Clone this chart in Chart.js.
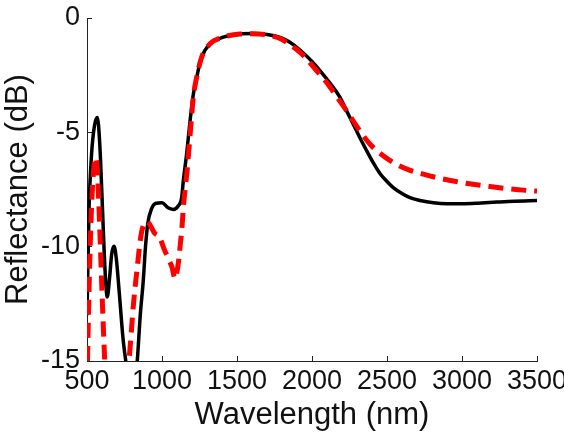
<!DOCTYPE html>
<html>
<head>
<meta charset="utf-8">
<script src="https://cdn.jsdelivr.net/npm/chart.js@4"></script>
<style>
  html, body { margin: 0; padding: 0; background: #fff; }
  #wrap { width: 564px; height: 434px; }
</style>
</head>
<body>
<div id="wrap"><canvas id="chart" width="564" height="434"></canvas></div>
<script>
// measured (black, solid) curve
var blackX = [500, 513, 530, 550, 569, 585, 600, 620, 635, 650, 665, 680, 695, 715, 740, 769, 800, 835, 855, 875, 890, 905, 930, 960, 1000, 1040, 1076, 1110, 1131, 1142, 1164, 1187, 1209, 1231, 1264, 1320, 1409, 1520, 1600, 1700, 1787, 1850, 1920, 2000, 2053, 2120, 2187, 2230, 2275, 2320, 2365, 2410, 2453, 2500, 2542, 2600, 2653, 2720, 2809, 2900, 3000, 3100, 3231, 3350, 3500];
var blackY = [-13, -8.5, -6, -4.7, -4.35, -5.5, -7.8, -11, -12.2, -11.4, -10.3, -9.98, -10.5, -12, -14, -15.5, -17, -15, -13, -11.5, -10, -9, -8.35, -8.1, -8.08, -8.3, -8.37, -8.2, -7.86, -7.13, -5.96, -4.5, -3.33, -2.6, -1.72, -1.13, -0.84, -0.7, -0.68, -0.72, -0.85, -1.05, -1.4, -1.9, -2.3, -2.85, -3.47, -4.05, -4.64, -5.25, -5.81, -6.35, -6.8, -7.15, -7.42, -7.68, -7.86, -7.98, -8.08, -8.12, -8.12, -8.1, -8.05, -8.01, -7.98];

// simulated (red, dashed) curve
var redX = [500, 515, 530, 545, 558, 570, 585, 600, 615, 624, 700, 780, 810, 835, 860, 880, 898, 915, 950, 985, 1011, 1040, 1067, 1087, 1100, 1111, 1122, 1133, 1144, 1156, 1167, 1180, 1190, 1209, 1231, 1264, 1320, 1409, 1520, 1600, 1700, 1787, 1850, 1920, 1964, 2030, 2098, 2160, 2231, 2310, 2387, 2470, 2564, 2650, 2742, 2831, 2942, 3050, 3164, 3300, 3431, 3500];
var redY = [-16, -11.5, -8.3, -6.6, -6.1, -6.8, -9.2, -12, -14.5, -15.8, -20, -15, -12.5, -10.9, -9.5, -9.0, -8.9, -9.0, -9.4, -9.6, -10.05, -10.5, -10.9, -11.4, -11.1, -10.6, -9.9, -9.17, -8.15, -7.4, -6.7, -5.7, -4.9, -3.45, -2.6, -1.72, -1.13, -0.84, -0.7, -0.69, -0.74, -0.9, -1.15, -1.5, -1.79, -2.3, -2.82, -3.4, -4.06, -4.85, -5.52, -6.0, -6.4, -6.65, -6.83, -6.98, -7.13, -7.25, -7.35, -7.46, -7.54, -7.57];

var xTicks = [500, 1000, 1500, 2000, 2500, 3000, 3500];
var yTicks = [-15, -10, -5, 0];

function toPoints(xs, ys) {
  return xs.map(function (x, i) { return { x: x, y: ys[i] }; });
}

var font = 'Liberation Sans, Arial, sans-serif';

new Chart(document.getElementById('chart').getContext('2d'), {
  type: 'line',
  data: {
    datasets: [
      { label: 'Simulated', data: toPoints(redX, redY), borderColor: '#ff0000', borderWidth: 5, borderDash: [15, 8], borderCapStyle: 'butt', pointRadius: 0, cubicInterpolationMode: 'monotone', order: 0 },
      { label: 'Measured', data: toPoints(blackX, blackY), borderColor: '#000000', borderWidth: 3.5, pointRadius: 0, cubicInterpolationMode: 'monotone', order: 1 }
    ]
  },
  options: {
    responsive: false,
    animation: false,
    layout: { padding: { top: 18, right: 27, left: 0, bottom: 0 } },
    plugins: { legend: { display: false }, tooltip: { enabled: false } },
    scales: {
      x: {
        type: 'linear', min: 500, max: 3500,
        afterBuildTicks: function (s) { s.ticks = xTicks.map(function (v) { return { value: v }; }); },
        afterFit: function (s) { s.height = 73; s.paddingLeft = 0; s.paddingRight = 0; },
        border: { display: true, color: '#222', width: 1 },
        grid: { drawOnChartArea: false, drawTicks: true, tickLength: -5, color: '#222' },
        ticks: { color: '#111', font: { family: font, size: 27 }, padding: 9, maxRotation: 0, autoSkip: false, callback: function (v) { return String(v); } },
        title: { display: true, text: 'Wavelength (nm)', color: '#111', font: { family: font, size: 31 }, padding: 0 }
      },
      y: {
        min: -15, max: 0,
        afterBuildTicks: function (s) { s.ticks = yTicks.map(function (v) { return { value: v }; }); },
        afterFit: function (s) { s.width = 87; s.paddingTop = 0; s.paddingBottom = 0; },
        border: { display: true, color: '#222', width: 1 },
        grid: { drawOnChartArea: false, drawTicks: true, tickLength: -5, color: '#222' },
        ticks: { color: '#111', font: { family: font, size: 27 }, padding: 12, autoSkip: false, callback: function (v) { return String(v); } },
        title: { display: true, text: 'Reflectance (dB)', color: '#111', font: { family: font, size: 31 }, padding: 0 }
      }
    }
  }
});
</script>
</body>
</html>
